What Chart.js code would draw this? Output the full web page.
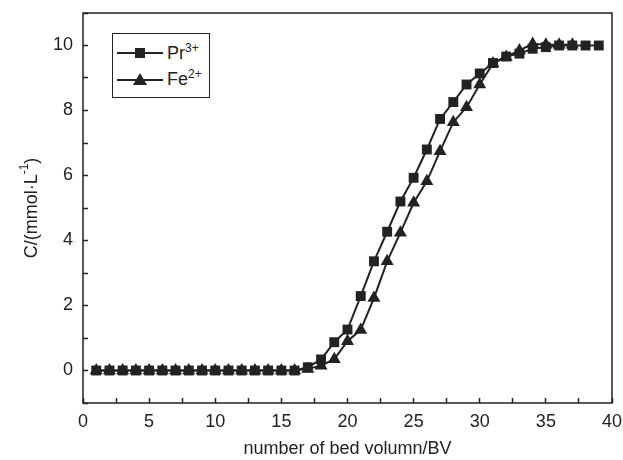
<!DOCTYPE html>
<html>
<head>
<meta charset="utf-8">
<script src="https://cdn.jsdelivr.net/npm/chart.js@4.4.1/dist/chart.umd.min.js"></script>
<style>
    html, body { margin: 0; padding: 0; background: #fff; }
    #wrap { position: relative; width: 623px; height: 460px; }
    #legend {
        position: absolute; left: 112px; top: 33px; width: 96px; height: 63px;
        border: 1.5px solid #222; background: #fff;
        font-family: "Liberation Sans", Arial, sans-serif; font-size: 18px; color: #222;
    }
    .row { position: absolute; left: 4px; height: 22px; display: flex; align-items: center; }
    .row svg { margin-right: 4px; }
    .row sup { font-size: 12px; vertical-align: 7px; line-height: 0; }
</style>
</head>
<body>
<div id="wrap">
    <canvas id="chart-bv" width="623" height="460"></canvas>
    <div id="legend">
        <div class="row" style="top: 8px;">
            <svg width="46" height="14"><line x1="0" y1="7" x2="46" y2="7" stroke="#222" stroke-width="2"/><rect x="18" y="2" width="10" height="10" fill="#222"/></svg>
            <span>Pr<sup>3+</sup></span>
        </div>
        <div class="row" style="top: 34px;">
            <svg width="46" height="14"><line x1="0" y1="8" x2="46" y2="8" stroke="#222" stroke-width="2"/><polygon points="23,1 30,13 16,13" fill="#222"/></svg>
            <span>Fe<sup>2+</sup></span>
        </div>
    </div>
</div>
<script>
const bedVolumes = [1, 2, 3, 4, 5, 6, 7, 8, 9, 10, 11, 12, 13, 14, 15, 16, 17, 18, 19, 20,
    21, 22, 23, 24, 25, 26, 27, 28, 29, 30, 31, 32, 33, 34, 35, 36, 37, 38, 39];
const prValues = [0, 0, 0, 0, 0, 0, 0, 0, 0, 0, 0, 0, 0, 0, 0, 0, 0.1, 0.34, 0.87, 1.26,
    2.29, 3.36, 4.27, 5.2, 5.93, 6.8, 7.74, 8.26, 8.8, 9.14, 9.46, 9.66, 9.75, 9.9, 9.95, 10, 10, 10, 10];
const feValues = [0, 0, 0, 0, 0, 0, 0, 0, 0, 0, 0, 0, 0, 0, 0, 0, 0.05, 0.15, 0.35, 0.9,
    1.25, 2.23, 3.36, 4.24, 5.16, 5.82, 6.75, 7.64, 8.1, 8.8, 9.45, 9.65, 9.85, 10.05, 10.02, 10.02, 10.02];
const xTickLabels = [0, 5, 10, 15, 20, 25, 30, 35, 40];
const yTickLabels = [0, 2, 4, 6, 8, 10];

const ink = '#222';
const fontFamily = '"Liberation Sans", Arial, sans-serif';
const font = { family: fontFamily, size: 18 };

// box around the plot area
const frame = {
    id: 'frame',
    beforeDatasetsDraw(chart) {
        const a = chart.chartArea;
        const ctx = chart.ctx;
        ctx.save();
        ctx.strokeStyle = ink;
        ctx.lineWidth = 1.5;
        ctx.strokeRect(a.left, a.top, a.right - a.left, a.bottom - a.top);
        ctx.restore();
    }
};

// y axis title with a real superscript
const yTitle = {
    id: 'yTitle',
    afterDraw(chart) {
        const a = chart.chartArea;
        const ctx = chart.ctx;
        ctx.save();
        ctx.translate(32, (a.top + a.bottom) / 2);
        ctx.rotate(-Math.PI / 2);
        ctx.fillStyle = ink;
        ctx.textBaseline = 'middle';
        const main = 'C/(mmol·L';
        const sup = '-1';
        const tail = ')';
        ctx.font = '18px ' + fontFamily;
        const w1 = ctx.measureText(main).width;
        const w3 = ctx.measureText(tail).width;
        ctx.font = '12px ' + fontFamily;
        const w2 = ctx.measureText(sup).width;
        let x = -(w1 + w2 + w3) / 2;
        ctx.font = '18px ' + fontFamily;
        ctx.fillText(main, x, 0);
        x += w1;
        ctx.font = '12px ' + fontFamily;
        ctx.fillText(sup, x, -7);
        x += w2;
        ctx.font = '18px ' + fontFamily;
        ctx.fillText(tail, x, 0);
        ctx.restore();
    }
};

new Chart(document.getElementById('chart-bv').getContext('2d'), {
    type: 'line',
    data: {
        datasets: [
            {
                label: 'Pr3+',
                data: prValues.map((v, i) => ({ x: bedVolumes[i], y: v })),
                borderColor: ink,
                backgroundColor: ink,
                borderWidth: 2,
                pointStyle: 'rect',
                pointRadius: 7,
                pointHoverRadius: 7,
                pointBorderWidth: 0
            },
            {
                label: 'Fe2+',
                data: feValues.map((v, i) => ({ x: bedVolumes[i], y: v })),
                borderColor: ink,
                backgroundColor: ink,
                borderWidth: 2,
                pointStyle: 'triangle',
                pointRadius: 7.5,
                pointHoverRadius: 7.5,
                pointBorderWidth: 0
            }
        ]
    },
    options: {
        responsive: false,
        animation: false,
        layout: { padding: { left: 0, top: 13, right: 0, bottom: 0 } },
        scales: {
            x: {
                type: 'linear',
                min: 0,
                max: 40,
                afterFit: scale => {
                    scale.height = 57;
                    scale.paddingLeft = 0;
                    scale.paddingRight = 11;
                },
                afterBuildTicks: scale => {
                    const t = [];
                    for (let v = 0; v <= 40; v += 2.5) t.push({ value: v });
                    scale.ticks = t;
                },
                ticks: {
                    color: ink,
                    font: font,
                    padding: 13,
                    maxRotation: 0,
                    autoSkip: false,
                    callback: v => xTickLabels.includes(v) ? String(v) : ''
                },
                grid: { drawOnChartArea: false, tickLength: -5, tickColor: ink, tickWidth: 1.5 },
                border: { display: false },
                title: { display: true, text: 'number of bed volumn/BV', color: ink, font: font, padding: { top: 0, bottom: 0 } }
            },
            y: {
                min: -1,
                max: 11,
                afterFit: scale => {
                    scale.width = 83;
                    scale.paddingTop = 0;
                    scale.paddingBottom = 0;
                },
                afterBuildTicks: scale => {
                    const t = [];
                    for (let v = -1; v <= 11; v += 1) t.push({ value: v });
                    scale.ticks = t;
                },
                ticks: {
                    color: ink,
                    font: font,
                    padding: 15,
                    autoSkip: false,
                    callback: v => yTickLabels.includes(v) ? String(v) : ''
                },
                grid: { drawOnChartArea: false, tickLength: -5, tickColor: ink, tickWidth: 1.5 },
                border: { display: false },
                title: { display: false }
            }
        },
        plugins: {
            legend: { display: false },
            tooltip: { enabled: false }
        }
    },
    plugins: [frame, yTitle]
});
</script>
</body>
</html>
